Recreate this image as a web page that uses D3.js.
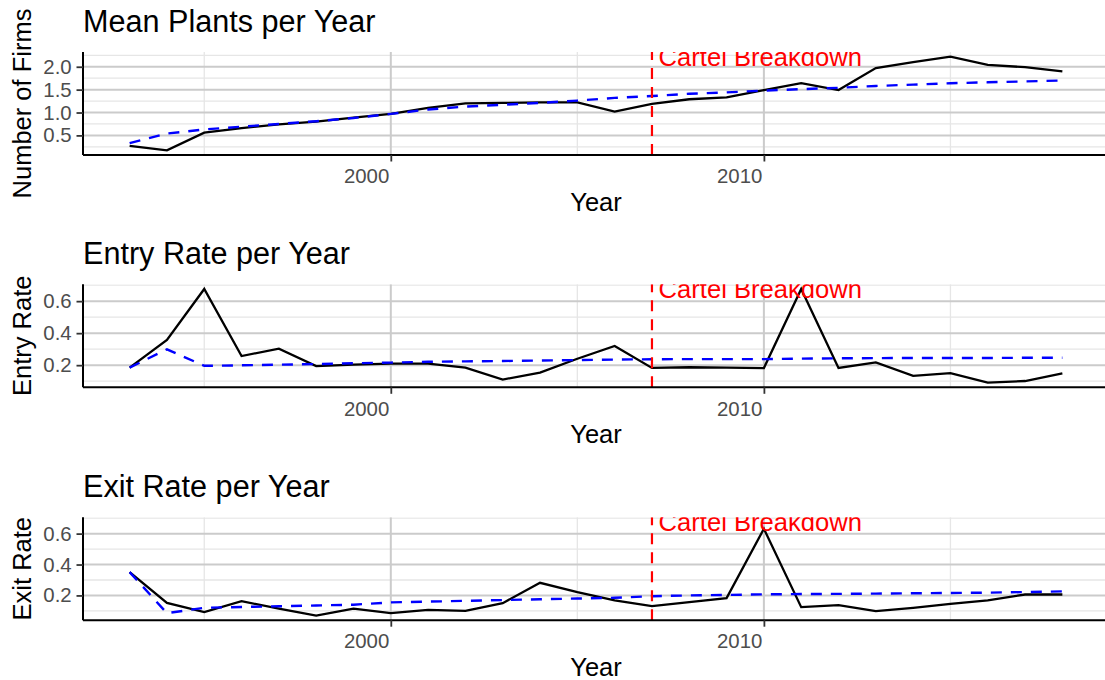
<!DOCTYPE html>
<html><head><meta charset="utf-8">
<script src="https://cdn.jsdelivr.net/npm/d3@7"></script>
<style>
body{margin:0;background:#fff}
svg{display:block}
text{font-family:"Liberation Sans",Arial,Helvetica,sans-serif}
</style>
</head><body>
<svg id="chart" width="1105" height="680"></svg>
<script>
// ---------- data ----------
const years = [1993,1994,1995,1996,1997,1998,1999,2000,2001,2002,2003,2004,2005,
               2006,2007,2008,2009,2010,2011,2012,2013,2014,2015,2016,2017,2018];

const plantsMean  = [0.27,0.174,0.56,0.66,0.74,0.80,0.89,0.97,1.10,1.20,1.21,1.22,1.22,
                     1.02,1.19,1.29,1.33,1.49,1.64,1.49,1.97,2.10,2.22,2.04,1.99,1.90];
const plantsTrend = [0.33,0.54,0.63,0.69,0.75,0.81,0.88,0.97,1.065,1.13,1.17,1.21,1.26,
                     1.32,1.36,1.41,1.44,1.48,1.51,1.54,1.58,1.61,1.64,1.66,1.68,1.70];

const entryRate  = [0.185,0.357,0.676,0.257,0.303,0.194,0.203,0.21,0.21,0.185,0.11,0.154,0.24,
                    0.32,0.183,0.187,0.185,0.182,0.676,0.183,0.217,0.133,0.15,0.091,0.101,0.148];
const entryTrend = [0.185,0.299,0.196,0.199,0.203,0.207,0.212,0.216,0.221,0.224,0.226,0.229,0.232,
                    0.235,0.237,0.238,0.238,0.238,0.241,0.243,0.244,0.245,0.245,0.245,0.246,0.246];

const exitRate  = [0.351,0.152,0.092,0.163,0.114,0.070,0.114,0.085,0.107,0.10,0.15,0.282,0.221,
                   0.168,0.131,0.157,0.183,0.632,0.124,0.137,0.098,0.12,0.146,0.168,0.206,0.206];
const exitTrend = [0.351,0.085,0.12,0.125,0.13,0.135,0.14,0.155,0.16,0.165,0.17,0.175,0.18,
                   0.185,0.195,0.20,0.203,0.207,0.209,0.21,0.212,0.214,0.216,0.218,0.222,0.226];

const xTicks = [2000, 2010];
const xMinorTicks = [1995, 2005, 2015];
const plantsTicks = [0.5, 1.0, 1.5, 2.0];
const plantsMinor = [0.25, 0.75, 1.25, 1.75, 2.25];
const rateTicks = [0.2, 0.4, 0.6];
const rateMinor = [0.1, 0.3, 0.5, 0.7];

const titles = ["Mean Plants per Year", "Entry Rate per Year", "Exit Rate per Year"];
const yLabels = ["Number of Firms", "Entry Rate", "Exit Rate"];
const breakYear = 2007;
const breakLabel = "Cartel Breakdown";
const breakLabelY = [2.22, 0.676, 0.676];

// ---------- layout ----------
const svg = d3.select("#chart");
const left = 83, right = 1109;
const panelTops = [52, 284.3, 517.2];
const panelH = 103;

const xExt = d3.extent(years);
const xPad = (xExt[1] - xExt[0]) * 0.05;
const x = d3.scaleLinear().domain([xExt[0] - xPad, xExt[1] + xPad]).range([left, right]);

const panels = [
  {vals: plantsMean, trend: plantsTrend, ticks: plantsTicks, minor: plantsMinor},
  {vals: entryRate,  trend: entryTrend,  ticks: rateTicks,   minor: rateMinor},
  {vals: exitRate,   trend: exitTrend,   ticks: rateTicks,   minor: rateMinor}
];

panels.forEach((p, i) => {
  const top = panelTops[i], bottom = top + panelH;
  const all = p.vals.concat(p.trend, [breakLabelY[i]]);
  const e = d3.extent(all);
  const pad = (e[1] - e[0]) * 0.05;
  const y = d3.scaleLinear().domain([e[0] - pad, e[1] + pad]).range([bottom, top]);
  const g = svg.append("g");

  const clipId = "clip" + i;
  svg.append("defs").append("clipPath").attr("id", clipId)
    .append("rect").attr("x", left).attr("y", top).attr("width", right - left).attr("height", panelH);

  const grid = g.append("g").attr("clip-path", `url(#${clipId})`);
  // minor grid
  grid.selectAll(".hmin").data(p.minor.filter(v => v >= y.domain()[0] && v <= y.domain()[1]))
    .join("line").attr("x1", left).attr("x2", right)
    .attr("y1", d => y(d)).attr("y2", d => y(d))
    .attr("stroke", "#e6e6e6").attr("stroke-width", 1.3);
  grid.selectAll(".vmin").data(xMinorTicks).join("line")
    .attr("x1", d => x(d)).attr("x2", d => x(d)).attr("y1", top).attr("y2", bottom)
    .attr("stroke", "#e6e6e6").attr("stroke-width", 1.3);
  // major grid
  grid.selectAll(".hmaj").data(p.ticks).join("line").attr("x1", left).attr("x2", right)
    .attr("y1", d => y(d)).attr("y2", d => y(d))
    .attr("stroke", "#cbcbcb").attr("stroke-width", 2);
  grid.selectAll(".vmaj").data(xTicks).join("line")
    .attr("x1", d => x(d)).attr("x2", d => x(d)).attr("y1", top).attr("y2", bottom)
    .attr("stroke", "#cbcbcb").attr("stroke-width", 2);

  const data = g.append("g").attr("clip-path", `url(#${clipId})`);
  const line = d3.line().x((d, j) => x(years[j])).y(d => y(d));
  data.append("path").datum(p.vals).attr("d", line)
    .attr("fill", "none").attr("stroke", "#000").attr("stroke-width", 2.3);
  data.append("path").datum(p.trend).attr("d", line)
    .attr("fill", "none").attr("stroke", "#0000ff").attr("stroke-width", 2.4)
    .attr("stroke-dasharray", "11,9");
  data.append("line").attr("x1", x(breakYear)).attr("x2", x(breakYear))
    .attr("y1", bottom).attr("y2", top)
    .attr("stroke", "#ff0000").attr("stroke-width", 2.2).attr("stroke-dasharray", "11,8");
  data.append("text").attr("x", x(breakYear) + 6.6).attr("y", y(breakLabelY[i]))
    .attr("dy", "0.35em").attr("fill", "#ff0000").attr("font-size", 25.6)
    .text(breakLabel);

  // axes
  const xAxis = g.append("g").attr("transform", `translate(0,${bottom})`)
    .call(d3.axisBottom(x).tickValues(xTicks).tickFormat(d3.format("d")).tickSize(6.5).tickPadding(4));
  xAxis.select(".domain").attr("stroke", "#000").attr("stroke-width", 2).attr("d", `M${left},0H${1105}`);
  xAxis.selectAll(".tick line").attr("stroke", "#333").attr("stroke-width", 1.8);
  xAxis.selectAll(".tick text").attr("fill", "#4d4d4d").attr("font-size", 20.4)
    .attr("dy", null).attr("y", 28.3).attr("x", -2).attr("text-anchor", "end")
    .attr("font-family", "Liberation Sans, Arial, sans-serif");

  const yAxis = g.append("g").attr("transform", `translate(${left},0)`)
    .call(d3.axisLeft(y).tickValues(p.ticks).tickFormat(d3.format(".1f")).tickSize(6.5).tickPadding(5));
  yAxis.select(".domain").attr("stroke", "#000").attr("stroke-width", 2).attr("d", `M0,${top}V${bottom}`);
  yAxis.selectAll(".tick line").attr("stroke", "#333").attr("stroke-width", 1.8);
  yAxis.selectAll(".tick text").attr("fill", "#4d4d4d").attr("font-size", 20.4)
    .attr("x", -11.3).attr("font-family", "Liberation Sans, Arial, sans-serif");

  // titles
  svg.append("text").attr("x", left).attr("y", top - 20).attr("font-size", 30.6)
    .attr("fill", "#000").text(titles[i]);
  svg.append("text").attr("x", (left + right) / 2).attr("y", bottom + 56)
    .attr("text-anchor", "middle").attr("font-size", 25.5).attr("fill", "#000").text("Year");
  svg.append("text").attr("transform", `translate(31,${(top + bottom) / 2}) rotate(-90)`)
    .attr("text-anchor", "middle").attr("font-size", 25.5).attr("fill", "#000").text(yLabels[i]);
});
</script>
</body></html>
